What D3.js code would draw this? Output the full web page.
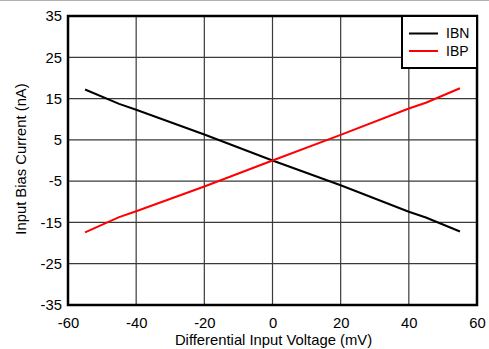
<!DOCTYPE html>
<html><head><meta charset="utf-8">
<script src="https://cdn.jsdelivr.net/npm/d3@7"></script>
<style>body{margin:0;background:#fff}svg{display:block}text{font-family:"Liberation Sans",Arial,sans-serif;fill:#000}</style>
</head><body>
<script>
const voltage = [-55, -45, -40, -20, 0, 20, 40, 45, 55];
const ibn = [17.2, 13.7, 12.3, 6.3, 0, -6.0, -12.4, -13.8, -17.2];
const ibp = [-17.4, -13.7, -12.3, -6.3, 0, 6.2, 12.6, 14.0, 17.5];
const xTicks = [-60, -40, -20, 0, 20, 40, 60];
const yTicks = [-35, -25, -15, -5, 5, 15, 25, 35];
const seriesNames = ["IBN", "IBP"];
const seriesColors = ["#000000", "#ff0000"];

const W = 489, H = 349;
const L = 68, T = 16, R = 477, B = 305;
const FS = "14.8px";
const svg = d3.select("body").append("svg").attr("width", W).attr("height", H);
const x = d3.scaleLinear().domain([-60, 60]).range([L, R]);
const y = d3.scaleLinear().domain([-35, 35]).range([B, T]);

svg.append("line").attr("x1", 0).attr("x2", W).attr("y1", 0.5).attr("y2", 0.5).attr("stroke", "#b0b0b0");

// grid
const g = svg.append("g");
g.selectAll(".vg").data(xTicks.slice(1, -1)).enter().append("line")
  .attr("x1", d => x(d)).attr("x2", d => x(d)).attr("y1", T).attr("y2", B)
  .attr("stroke", "#3a3a3a").attr("stroke-width", 1.2);
g.selectAll(".hg").data(yTicks.slice(1, -1)).enter().append("line")
  .attr("x1", L).attr("x2", R).attr("y1", d => y(d)).attr("y2", d => y(d))
  .attr("stroke", "#3a3a3a").attr("stroke-width", 1.2);

// axes labels
svg.append("g").attr("transform", `translate(0,${B})`)
  .call(d3.axisBottom(x).tickValues(xTicks).tickSize(0).tickPadding(12).tickFormat(d => String(d)))
  .call(s => s.select(".domain").remove())
  .selectAll("text").style("font-size", FS).style("font-family", "Liberation Sans, Arial, sans-serif").attr("fill", "#000");
svg.append("g").attr("transform", `translate(${L},0)`)
  .call(d3.axisLeft(y).tickValues(yTicks).tickSize(0).tickPadding(6).tickFormat(d => String(d)))
  .call(s => s.select(".domain").remove())
  .selectAll("text").style("font-size", FS).style("font-family", "Liberation Sans, Arial, sans-serif").attr("fill", "#000");

// lines
const line = d3.line().x((d, i) => x(voltage[i])).y(d => y(d));
[ibn, ibp].forEach((s, k) => {
  svg.append("path").datum(s).attr("d", line).attr("fill", "none")
    .attr("stroke", seriesColors[k]).attr("stroke-width", 2);
});

// frame
svg.append("rect").attr("x", L).attr("y", T).attr("width", R - L).attr("height", B - T)
  .attr("fill", "none").attr("stroke", "#000").attr("stroke-width", 2.5);

// legend
const lg = svg.append("g");
lg.append("rect").attr("x", 402).attr("y", T).attr("width", R - 402).attr("height", 52)
  .attr("fill", "#fff").attr("stroke", "#000").attr("stroke-width", 2);
seriesNames.forEach((n, i) => {
  const yy = 33.5 + i * 17.5;
  lg.append("line").attr("x1", 409).attr("x2", 438).attr("y1", yy).attr("y2", yy)
    .attr("stroke", seriesColors[i]).attr("stroke-width", 2);
  lg.append("text").attr("x", 446).attr("y", yy).attr("dy", "0.35em")
    .style("font-size", "14px").text(n);
});

// titles
svg.append("text").attr("x", 273.5).attr("y", 345).attr("text-anchor", "middle")
  .style("font-size", FS).text("Differential Input Voltage (mV)");
svg.append("text").attr("transform", `translate(26,159) rotate(-90)`)
  .attr("text-anchor", "middle").style("font-size", FS).text("Input Bias Current (nA)");
</script>
</body></html>
